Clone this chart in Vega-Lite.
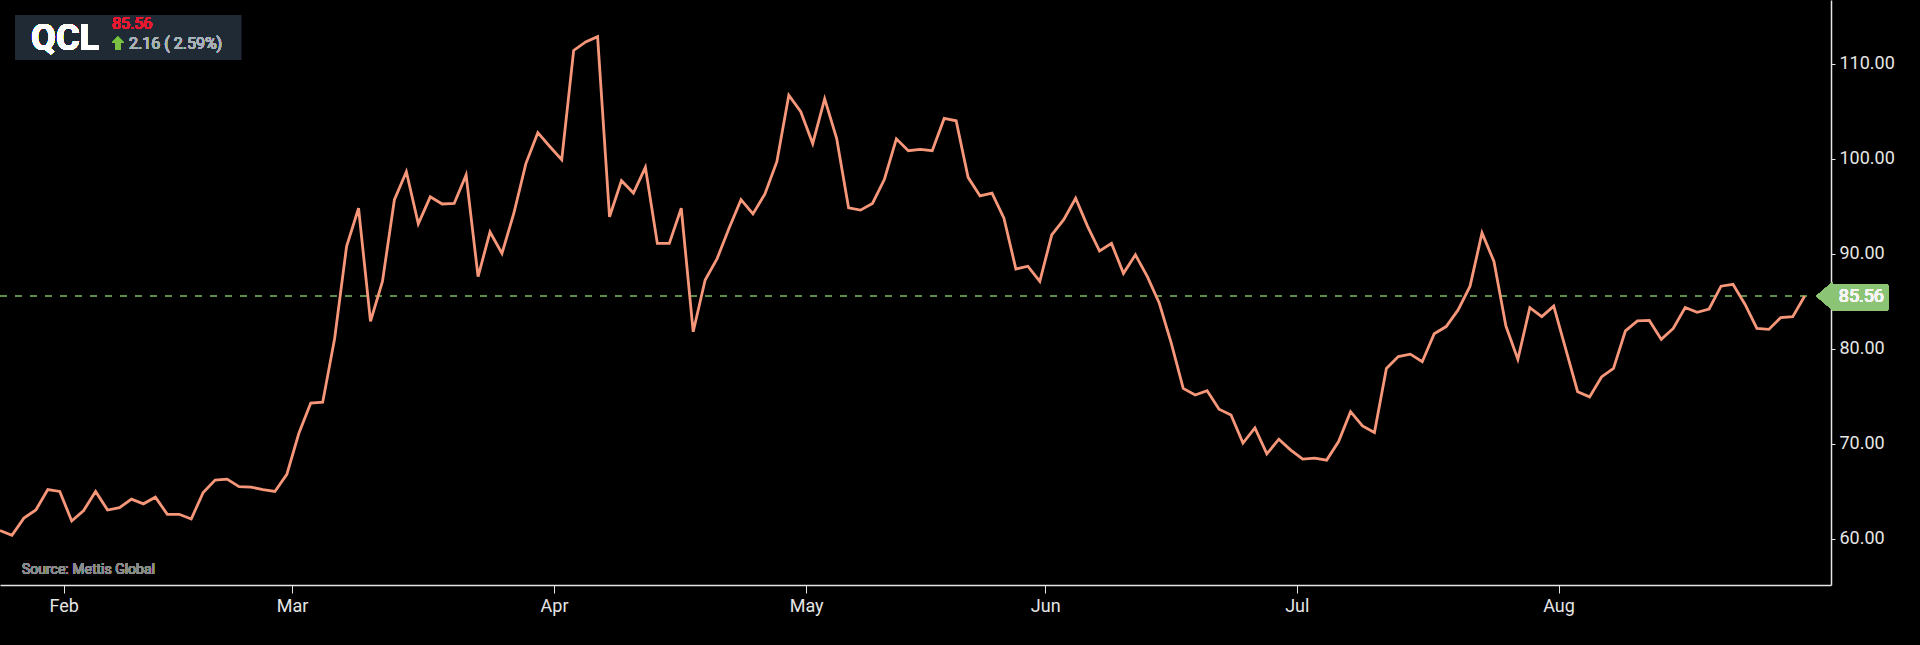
{
  "$schema": "https://vega.github.io/schema/vega-lite/v6.json",
  "width": 1831,
  "height": 585,
  "autosize": {"type": "none"},
  "padding": {"left": 0, "top": 0, "right": 89, "bottom": 60},
  "background": "#000000",
  "config": {
    "view": {"stroke": null},
    "font": "Roboto",
    "text": {"font": "Roboto"},
    "axis": {
      "title": null,
      "grid": false,
      "labelFont": "Roboto",
      "labelFontSize": 18,
      "labelColor": "#e6e6e6",
      "labelFlush": false,
      "labelPadding": 4,
      "tickColor": "#e6e6e6",
      "domainColor": "#e6e6e6",
      "domainWidth": 1.5
    }
  },
  "data": {
    "values": [
      {"i": 0, "close": 60.9}, {"i": 1, "close": 60.4}, {"i": 2, "close": 62.2}, {"i": 3, "close": 63.05},
      {"i": 4, "close": 65.2}, {"i": 5, "close": 65.0}, {"i": 6, "close": 61.9}, {"i": 7, "close": 63.0},
      {"i": 8, "close": 65.0}, {"i": 9, "close": 63.05}, {"i": 10, "close": 63.3}, {"i": 11, "close": 64.2},
      {"i": 12, "close": 63.7}, {"i": 13, "close": 64.4}, {"i": 14, "close": 62.6}, {"i": 15, "close": 62.6},
      {"i": 16, "close": 62.1}, {"i": 17, "close": 64.9}, {"i": 18, "close": 66.2}, {"i": 19, "close": 66.3},
      {"i": 20, "close": 65.5}, {"i": 21, "close": 65.45}, {"i": 22, "close": 65.2}, {"i": 23, "close": 65.0},
      {"i": 24, "close": 66.8}, {"i": 25, "close": 71.1}, {"i": 26, "close": 74.3}, {"i": 27, "close": 74.4},
      {"i": 28, "close": 81.1}, {"i": 29, "close": 90.8}, {"i": 30, "close": 94.8}, {"i": 31, "close": 82.9},
      {"i": 32, "close": 87.1}, {"i": 33, "close": 95.7}, {"i": 34, "close": 98.65}, {"i": 35, "close": 93.15},
      {"i": 36, "close": 96.0}, {"i": 37, "close": 95.25}, {"i": 38, "close": 95.3}, {"i": 39, "close": 98.3},
      {"i": 40, "close": 87.6}, {"i": 41, "close": 92.3}, {"i": 42, "close": 90.05}, {"i": 43, "close": 94.3},
      {"i": 44, "close": 99.5}, {"i": 45, "close": 102.75}, {"i": 46, "close": 101.3}, {"i": 47, "close": 99.9},
      {"i": 48, "close": 111.4}, {"i": 49, "close": 112.3}, {"i": 50, "close": 112.85}, {"i": 51, "close": 93.9},
      {"i": 52, "close": 97.7}, {"i": 53, "close": 96.4}, {"i": 54, "close": 99.1}, {"i": 55, "close": 91.1},
      {"i": 56, "close": 91.1}, {"i": 57, "close": 94.8}, {"i": 58, "close": 81.8}, {"i": 59, "close": 87.25},
      {"i": 60, "close": 89.5}, {"i": 61, "close": 92.7}, {"i": 62, "close": 95.7}, {"i": 63, "close": 94.2},
      {"i": 64, "close": 96.3}, {"i": 65, "close": 99.7}, {"i": 66, "close": 106.7}, {"i": 67, "close": 104.95},
      {"i": 68, "close": 101.6}, {"i": 69, "close": 106.3}, {"i": 70, "close": 102.15}, {"i": 71, "close": 94.85},
      {"i": 72, "close": 94.6}, {"i": 73, "close": 95.3}, {"i": 74, "close": 97.85}, {"i": 75, "close": 102.1},
      {"i": 76, "close": 100.85}, {"i": 77, "close": 101.0}, {"i": 78, "close": 100.85}, {"i": 79, "close": 104.25},
      {"i": 80, "close": 104.0}, {"i": 81, "close": 98.05}, {"i": 82, "close": 96.1}, {"i": 83, "close": 96.4},
      {"i": 84, "close": 93.75}, {"i": 85, "close": 88.4}, {"i": 86, "close": 88.7}, {"i": 87, "close": 87.1},
      {"i": 88, "close": 92.0}, {"i": 89, "close": 93.6}, {"i": 90, "close": 95.85}, {"i": 91, "close": 92.9},
      {"i": 92, "close": 90.3}, {"i": 93, "close": 91.1}, {"i": 94, "close": 87.95}, {"i": 95, "close": 89.9},
      {"i": 96, "close": 87.6}, {"i": 97, "close": 84.8}, {"i": 98, "close": 80.6}, {"i": 99, "close": 75.85},
      {"i": 100, "close": 75.15}, {"i": 101, "close": 75.6}, {"i": 102, "close": 73.65}, {"i": 103, "close": 73.05},
      {"i": 104, "close": 70.1}, {"i": 105, "close": 71.7}, {"i": 106, "close": 68.95}, {"i": 107, "close": 70.5},
      {"i": 108, "close": 69.35}, {"i": 109, "close": 68.4}, {"i": 110, "close": 68.5}, {"i": 111, "close": 68.3},
      {"i": 112, "close": 70.25}, {"i": 113, "close": 73.4}, {"i": 114, "close": 71.9}, {"i": 115, "close": 71.2},
      {"i": 116, "close": 77.95}, {"i": 117, "close": 79.2}, {"i": 118, "close": 79.45}, {"i": 119, "close": 78.65},
      {"i": 120, "close": 81.6}, {"i": 121, "close": 82.35}, {"i": 122, "close": 84.1}, {"i": 123, "close": 86.6},
      {"i": 124, "close": 92.2}, {"i": 125, "close": 89.2}, {"i": 126, "close": 82.4}, {"i": 127, "close": 78.9},
      {"i": 128, "close": 84.35}, {"i": 129, "close": 83.4}, {"i": 130, "close": 84.5}, {"i": 131, "close": 80.0},
      {"i": 132, "close": 75.5}, {"i": 133, "close": 74.95}, {"i": 134, "close": 77.05}, {"i": 135, "close": 77.95},
      {"i": 136, "close": 81.9}, {"i": 137, "close": 82.95}, {"i": 138, "close": 83.0}, {"i": 139, "close": 81.0},
      {"i": 140, "close": 82.15}, {"i": 141, "close": 84.35}, {"i": 142, "close": 83.85}, {"i": 143, "close": 84.2},
      {"i": 144, "close": 86.6}, {"i": 145, "close": 86.8}, {"i": 146, "close": 84.7}, {"i": 147, "close": 82.15},
      {"i": 148, "close": 82.05}, {"i": 149, "close": 83.3}, {"i": 150, "close": 83.4}, {"i": 151, "close": 85.56}
    ]
  },
  "encoding": {
    "x": {
      "type": "quantitative",
      "scale": {"domain": [0, 153.2], "nice": false, "zero": false},
      "axis": {
        "orient": "bottom",
        "values": [5.33, 24.43, 46.36, 67.45, 87.45, 108.5, 130.4],
        "labelExpr": "datum.value < 10 ? 'Feb' : datum.value < 30 ? 'Mar' : datum.value < 50 ? 'Apr' : datum.value < 70 ? 'May' : datum.value < 90 ? 'Jun' : datum.value < 110 ? 'Jul' : 'Aug'",
        "tickSize": 8
      }
    },
    "y": {
      "type": "quantitative",
      "scale": {"domain": [55.16, 116.71], "nice": false, "zero": false},
      "axis": {
        "orient": "right",
        "values": [60, 70, 80, 90, 100, 110],
        "format": ".2f",
        "tickSize": 4
      }
    }
  },
  "layer": [
    {
      "mark": {"type": "rule", "color": "#5f8f4b", "strokeWidth": 1, "strokeDash": [7, 8]},
      "encoding": {
        "x": {"datum": 0},
        "x2": {"datum": 151.2},
        "y": {"datum": 85.56}
      }
    },
    {
      "mark": {"type": "line", "color": "#f7977a", "strokeWidth": 2.8, "strokeJoin": "miter"},
      "encoding": {
        "x": {"field": "i"},
        "y": {"field": "close"}
      }
    },
    {
      "mark": {"type": "rect", "color": "#8cc476", "cornerRadius": 3},
      "encoding": {
        "x": {"datum": 153.25},
        "x2": {"datum": 158.0},
        "y": {"datum": 86.83},
        "y2": {"datum": 84.0}
      }
    },
    {
      "mark": {"type": "point", "filled": true, "color": "#8cc476", "opacity": 1, "size": 256, "shape": "M -1 0 L 1 -1.7 L 1 1.7 Z"},
      "encoding": {
        "x": {"datum": 152.64},
        "y": {"datum": 85.56}
      }
    },
    {
      "mark": {"type": "text", "text": "85.56", "align": "left", "baseline": "middle", "dy": 1, "fontSize": 18, "color": "#f5f5f5"},
      "encoding": {
        "x": {"datum": 153.85},
        "y": {"datum": 85.56}
      }
    },
    {
      "mark": {"type": "rect", "color": "#1f2a35"},
      "encoding": {
        "x": {"datum": 1.26},
        "x2": {"datum": 20.17},
        "y": {"datum": 115.13},
        "y2": {"datum": 110.4}
      }
    },
    {
      "mark": {"type": "text", "text": "QCL", "align": "left", "baseline": "alphabetic", "fontSize": 36, "fontWeight": "bold", "color": "#ffffff"},
      "encoding": {
        "x": {"datum": 2.6},
        "y": {"datum": 111.45}
      }
    },
    {
      "mark": {"type": "text", "text": "85.56", "align": "left", "baseline": "alphabetic", "fontSize": 16, "color": "#e8182f"},
      "encoding": {
        "x": {"datum": 9.37},
        "y": {"datum": 113.63}
      }
    },
    {
      "mark": {"type": "point", "filled": true, "color": "#7cc242", "opacity": 1, "size": 144, "shape": "M 0 -1.1 L 1 -0.1 L 0.45 -0.1 L 0.45 1.05 L -0.45 1.05 L -0.45 -0.1 L -1 -0.1 Z"},
      "encoding": {
        "x": {"datum": 9.87},
        "y": {"datum": 112.14}
      }
    },
    {
      "mark": {"type": "text", "text": "2.16 ( 2.59%)", "align": "left", "baseline": "alphabetic", "fontSize": 16, "color": "#a9b1b8"},
      "encoding": {
        "x": {"datum": 10.8},
        "y": {"datum": 111.56}
      }
    },
    {
      "mark": {"type": "text", "text": "Source: Mettis Global", "align": "left", "baseline": "alphabetic", "fontSize": 14, "fontWeight": "normal", "color": "#8a8a8a"},
      "encoding": {
        "x": {"datum": 1.84},
        "y": {"datum": 56.32}
      }
    }
  ]
}
